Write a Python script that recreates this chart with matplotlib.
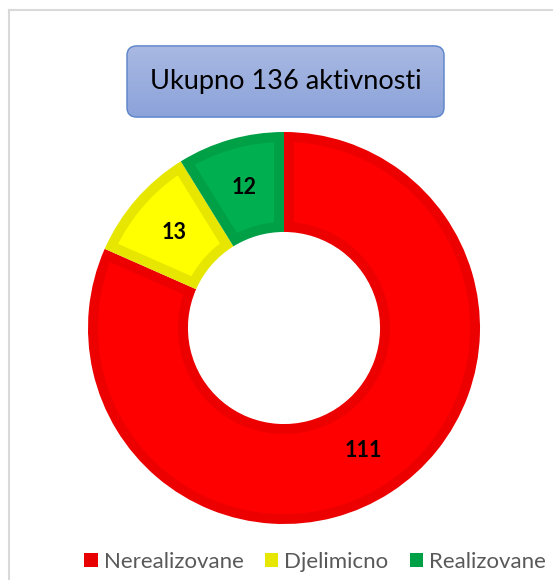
import numpy as np
import matplotlib.pyplot as plt
from matplotlib.patches import FancyBboxPatch, Patch, Polygon
from matplotlib.colors import LinearSegmentedColormap
from matplotlib.lines import Line2D

# podaci
kategorije = ["Nerealizovane", "Djelimicno", "Realizovane"]
vrijednosti = [111, 13, 12]
boje = ["#FF0000", "#FFFF00", "#00B050"]
ivice = ["#EC0000", "#E6E600", "#00A046"]
naslov = "Ukupno 136 aktivnosti"

W, H = 553, 580
fig = plt.figure(figsize=(W / 100, H / 100), dpi=100)
fig.patch.set_facecolor("white")

# okvir (gornja i lijeva ivica)
fig.add_artist(Line2D([9 / W, 9 / W], [0, 1 - 10 / H], color="#D9D9D9", lw=1.5))
fig.add_artist(Line2D([9 / W, 1], [1 - 10 / H, 1 - 10 / H], color="#D9D9D9", lw=1.5))

# ---- krug ----
cx, cy, r = 284, 328, 196
ax = fig.add_axes([(cx - r) / W, 1 - (cy + r) / H, 2 * r / W, 2 * r / H])
ukupno = sum(vrijednosti)
sirina = 0.51
wedges, _, labele = ax.pie(vrijednosti, colors=ivice, startangle=90, counterclock=False,
                           radius=1, wedgeprops=dict(width=sirina, linewidth=0),
                           autopct=lambda p: f"{round(p * ukupno / 100)}", pctdistance=0.745,
                           textprops=dict(fontsize=15.5, fontweight="bold", color="black",
                                          family="Lato"))

# svijetliji unutrasnji dio svakog isjecka (rub ostaje tamniji)
t = 10 / r
R_out, R_in = 1 - t, 1 - sirina + t
for w, b in zip(wedges, boje):
    a1, a2 = np.radians(w.theta1), np.radians(w.theta2)
    d_out, d_in = np.arcsin(t / R_out), np.arcsin(t / R_in)
    spolja = np.linspace(a1 + d_out, a2 - d_out, 200)
    unutra = np.linspace(a2 - d_in, a1 + d_in, 200)
    xs = np.concatenate([R_out * np.cos(spolja), R_in * np.cos(unutra)])
    ys = np.concatenate([R_out * np.sin(spolja), R_in * np.sin(unutra)])
    ax.add_patch(Polygon(np.column_stack([xs, ys]), closed=True, facecolor=b,
                         edgecolor="none", zorder=1.5))
for tx in labele:
    tx.set_zorder(3)
ax.set_xlim(-1, 1)
ax.set_ylim(-1, 1)
ax.axis("off")

# ---- naslov u kutiji ----
bx0, by0, bx1, by1 = 125, 44, 446, 119
axt = fig.add_axes([bx0 / W, 1 - by1 / H, (bx1 - bx0) / W, (by1 - by0) / H])
bw, bh = bx1 - bx0, by1 - by0
axt.set_xlim(-2, bw + 2)
axt.set_ylim(-2, bh + 2)
axt.axis("off")
kutija = FancyBboxPatch((0, 0), bw, bh, boxstyle="round,pad=0,rounding_size=10",
                        facecolor="none", edgecolor="#5B83C9", lw=1.0, zorder=3)
axt.add_patch(kutija)
grad = np.linspace(0, 1, 100).reshape(-1, 1)
slika = axt.imshow(grad, extent=(0, bw, 0, bh), aspect="auto", origin="lower",
                   cmap=LinearSegmentedColormap.from_list("g", ["#8CA3DA", "#A9B9E2"]),
                   zorder=1)
slika.set_clip_path(kutija)
axt.text(bw / 2, bh / 2, naslov, ha="center", va="center", fontsize=19.5,
         family="Lato", color="black", zorder=4)

# ---- legenda ----
rucke = [Patch(facecolor=b, edgecolor="none") for b in ["#E80000", "#E6E600", "#00A046"]]
fig.legend(rucke, kategorije, loc="center", bbox_to_anchor=(315 / W, 1 - 562 / H),
           ncol=3, frameon=False, handlelength=0.62, handleheight=0.62,
           handletextpad=0.27, columnspacing=0.95, prop=dict(family="Lato", size=16),
           labelcolor="#595959", borderpad=0.2)

fig.savefig("out.png", dpi=100)
